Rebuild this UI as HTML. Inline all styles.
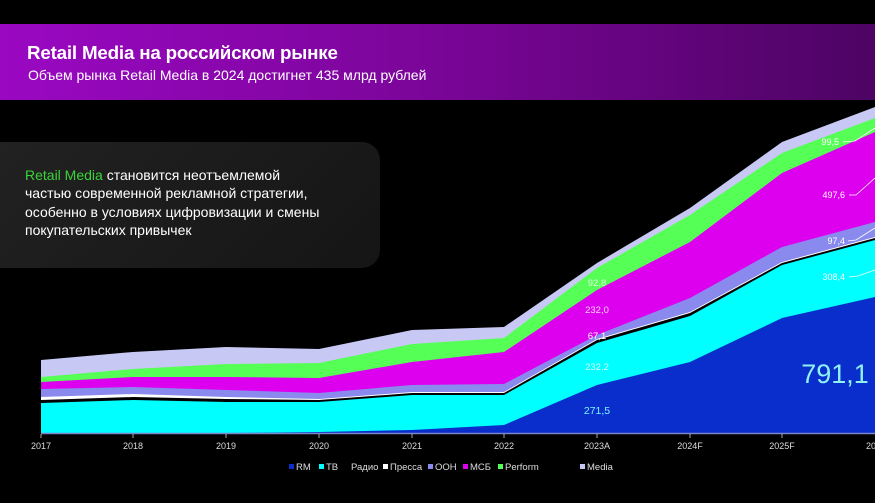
<!DOCTYPE html>
<html><head><meta charset="utf-8"><style>
html,body{margin:0;padding:0;background:#000;}
body{width:875px;height:503px;overflow:hidden;position:relative;font-family:"Liberation Sans","DejaVu Sans",sans-serif;}
.hdr{position:absolute;left:0;top:24px;width:875px;height:76px;background:linear-gradient(90deg,#9a08c2 0%,#7a0598 50%,#4d0463 100%);}
.t1{position:absolute;left:27px;top:18px;color:#fff;font-size:18.8px;font-weight:bold;letter-spacing:-0.2px;}
.t2{position:absolute;left:28px;top:43px;color:#fff;font-size:14px;}
.box{position:absolute;left:-20px;top:142px;width:400px;height:126px;border-radius:18px;background:linear-gradient(135deg,#222 0%,#151515 100%);}
.bt{position:absolute;left:25px;top:166px;color:#fff;font-size:14px;line-height:18.3px;}
.g{color:#3ad43a;}
</style></head><body>
<div class="hdr"><div class="t1">Retail Media на российском рынке</div><div class="t2">Объем рынка Retail Media в 2024 достигнет 435 млрд рублей</div></div>
<svg width="875" height="503" style="position:absolute;left:0;top:0" font-family="Liberation Sans, DejaVu Sans, sans-serif">
<polygon fill="#c8c8f5" points="41,360 133,352 226,347 319,349 412,330 504,327 597,263 690,208 782,142 875,107 875,433 41,433"/>
<polygon fill="#55ff55" points="41,377 133,369 226,364 319,363 412,344 504,338 597,268 690,215 782,153 875,118 875,433 41,433"/>
<polygon fill="#dd00ee" points="41,382 133,377 226,377 319,378 412,362 504,352 597,290 690,242 782,173 875,132 875,433 41,433"/>
<polygon fill="#8a8aee" points="41,389 133,387 226,390 319,393 412,385 504,384 597,335 690,298 782,247 875,222 875,433 41,433"/>
<polygon fill="#ffffff" points="41,397 133,394 226,397 319,399 412,392 504,392 597,339 690,312 782,262 875,237 875,433 41,433"/>
<polygon fill="#000000" points="41,400 133,397 226,399 319,400 412,393 504,393 597,340 690,313 782,263 875,238 875,433 41,433"/>
<polygon fill="#00ffff" points="41,403 133,400 226,402 319,402 412,395 504,395 597,343 690,316 782,265 875,240 875,433 41,433"/>
<polygon fill="#0a2ecc" points="41,433 133,433 226,433 319,432 412,430 504,425 597,385 690,362 782,318 875,297 875,433 41,433"/>
<line x1="41" y1="433.5" x2="875" y2="433.5" stroke="#7a86c8" stroke-width="1.5"/>
<g stroke="#aaa" stroke-width="1"><line x1="41" y1="434" x2="41" y2="438"/><line x1="133" y1="434" x2="133" y2="438"/><line x1="226" y1="434" x2="226" y2="438"/><line x1="319" y1="434" x2="319" y2="438"/><line x1="412" y1="434" x2="412" y2="438"/><line x1="504" y1="434" x2="504" y2="438"/><line x1="597" y1="434" x2="597" y2="438"/><line x1="690" y1="434" x2="690" y2="438"/><line x1="782" y1="434" x2="782" y2="438"/></g>
<g fill="#ddd" font-size="9" text-anchor="middle"><text x="41" y="449">2017</text><text x="133" y="449">2018</text><text x="226" y="449">2019</text><text x="319" y="449">2020</text><text x="412" y="449">2021</text><text x="504" y="449">2022</text><text x="597" y="449">2023A</text><text x="690" y="449">2024F</text><text x="782" y="449">2025F</text><text x="876" y="449">2026</text></g>
<g font-size="9.5" fill="#ddd">
<rect x="289" y="464" width="5" height="5" fill="#0a2ecc"/><text x="296" y="470">RM</text>
<rect x="319" y="464" width="5" height="5" fill="#00ffff"/><text x="326" y="470">TB</text>
<text x="351" y="470">Радио</text>
<rect x="383" y="464" width="5" height="5" fill="#fff"/><text x="390" y="470">Пресса</text>
<rect x="428" y="464" width="5" height="5" fill="#8a8aee"/><text x="435" y="470">OOH</text>
<rect x="463" y="464" width="5" height="5" fill="#dd00ee"/><text x="470" y="470">МСБ</text>
<rect x="498" y="464" width="5" height="5" fill="#55ff55"/><text x="505" y="470">Perform</text>
<rect x="580" y="464" width="5" height="5" fill="#c8c8f5"/><text x="587" y="470">Media</text>
</g>
<g font-size="9.5" text-anchor="middle">
<text x="597" y="414" fill="#7ef2ff" font-size="10.5">271,5</text>
<text x="597" y="370" fill="#d8ffff">232,2</text>
<text x="597" y="339" fill="#fff">67,1</text>
<text x="597" y="313" fill="#ffd0ff">232,0</text>
<text x="597" y="286" fill="#e0ffe0">92,8</text>
</g>
<text x="835" y="383" fill="#8ff2f0" font-size="27" text-anchor="middle">791,1</text>
<g font-size="9" fill="#fff" text-anchor="end">
<text x="839" y="145">99,5</text><text x="845" y="198">497,6</text><text x="845" y="244">97,4</text><text x="845" y="280">308,4</text>
</g>
<g stroke="#fff" stroke-width="0.8" fill="none">
<polyline points="843,142 855,141 875,128"/>
<polyline points="849,195 856,195 875,178"/>
<polyline points="848,241 856,240 875,228"/>
<polyline points="849,277 858,276 875,270"/>
</g>
</svg>
<div class="box"></div>
<div class="bt"><span class="g">Retail Media</span> становится неотъемлемой<br>частью современной рекламной стратегии,<br>особенно в условиях цифровизации и смены<br>покупательских привычек</div>
</body></html>
